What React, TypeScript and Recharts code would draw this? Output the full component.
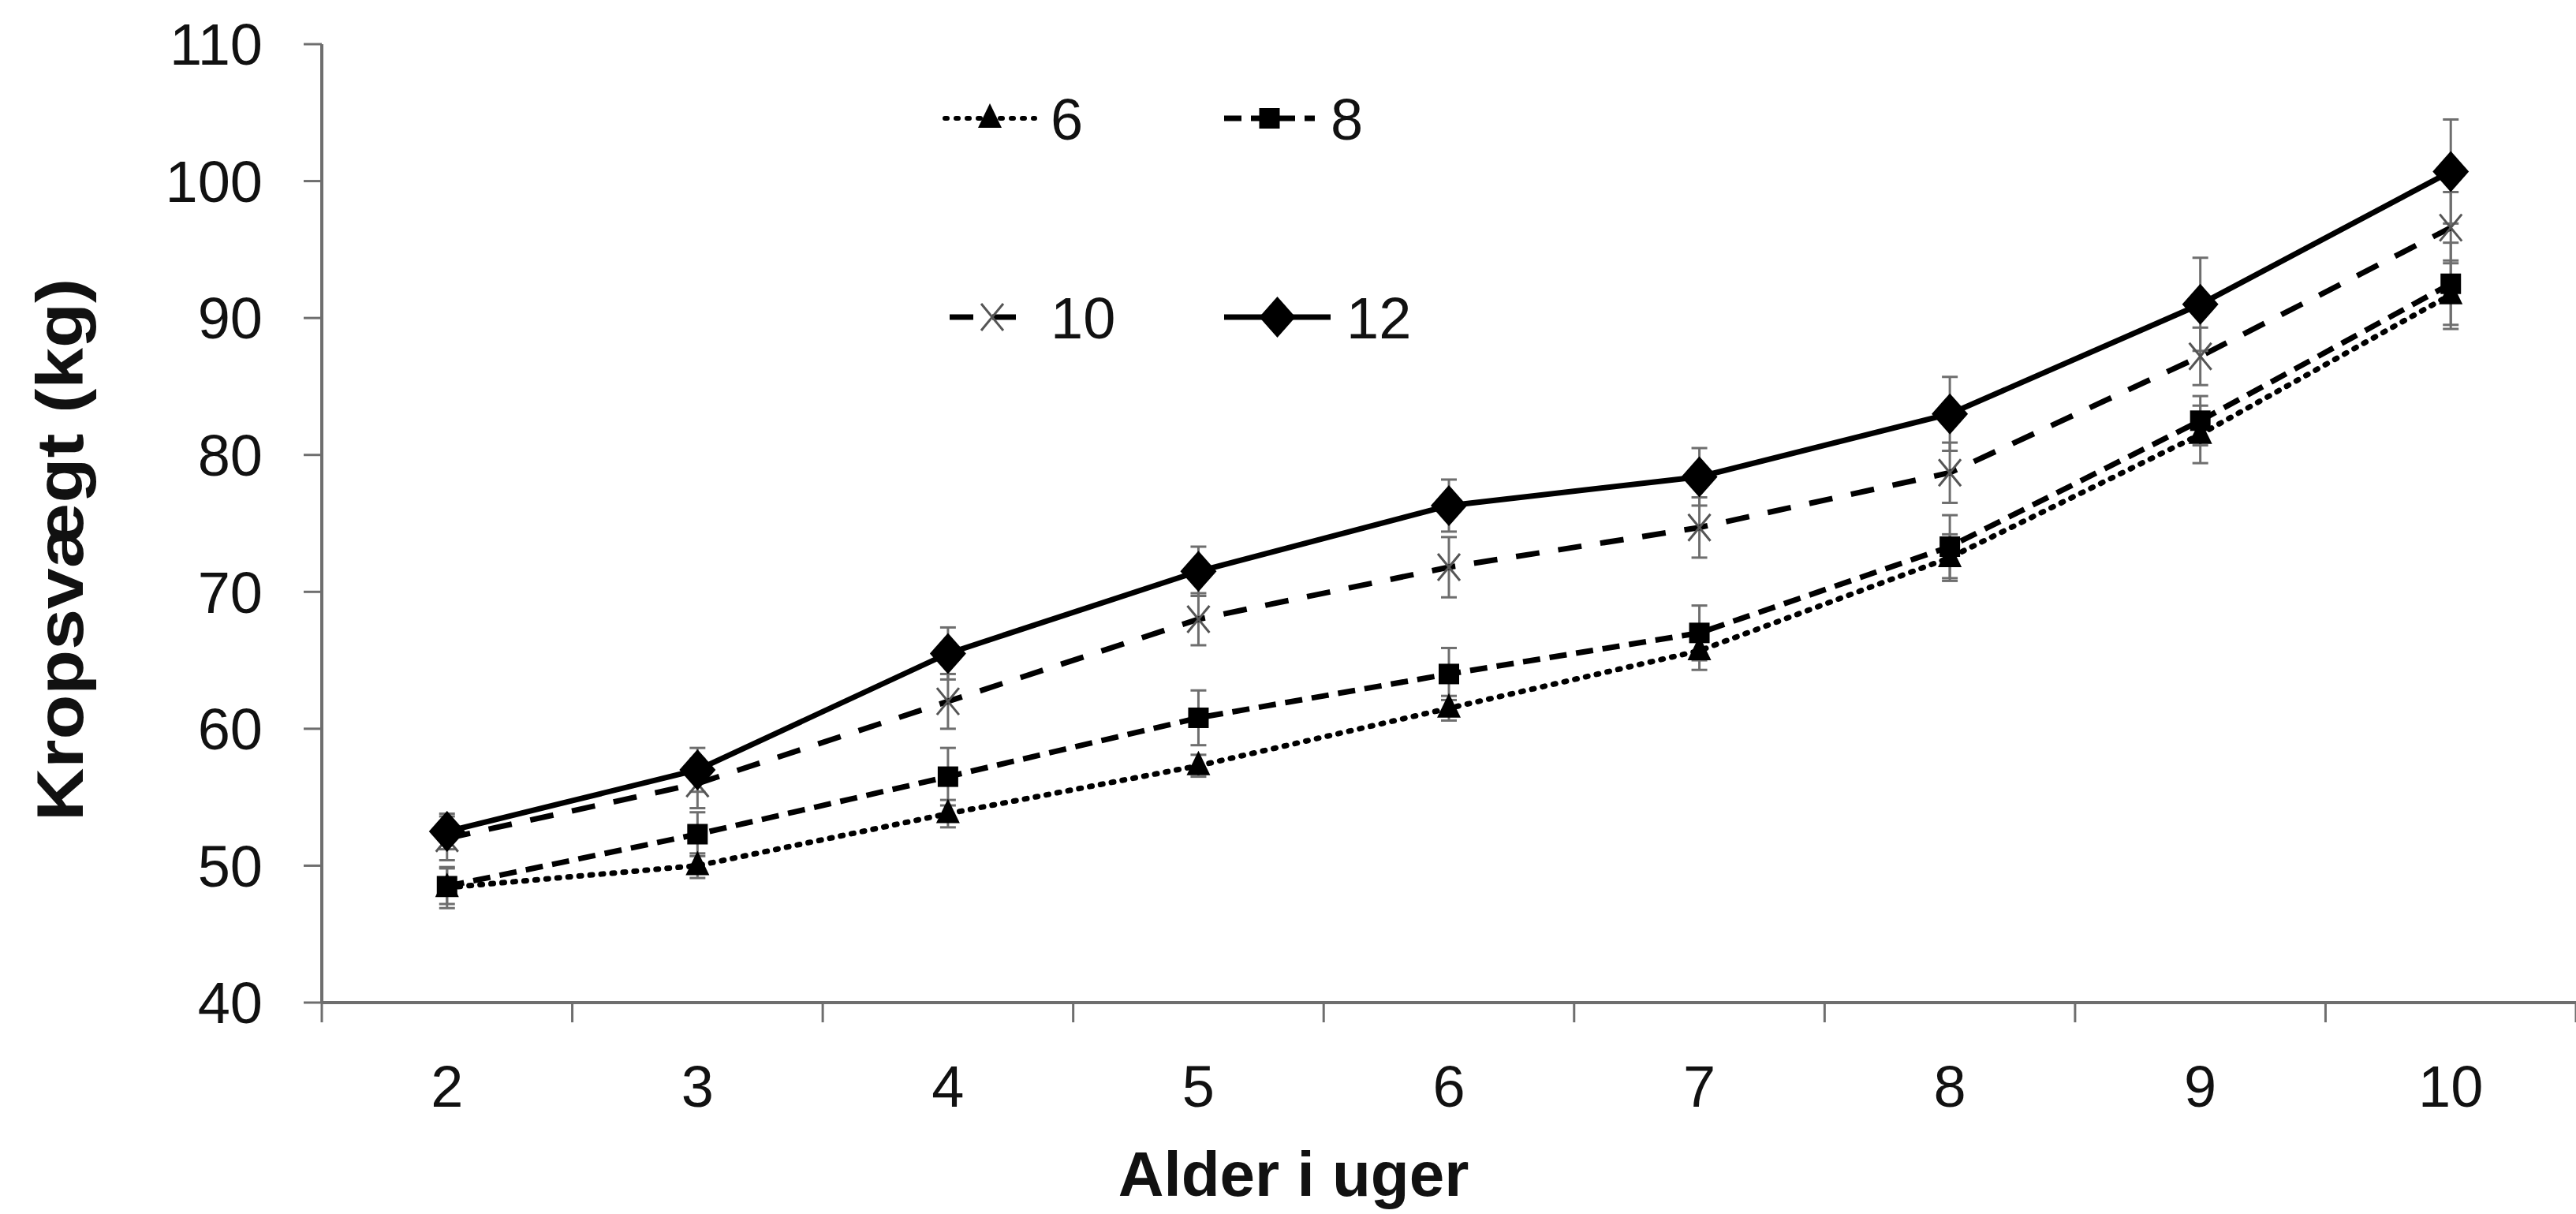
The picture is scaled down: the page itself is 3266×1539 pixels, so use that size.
import { LineChart, Line, XAxis, YAxis, ErrorBar } from 'recharts';

// alder i uger
const weeks = [2, 3, 4, 5, 6, 7, 8, 9, 10];
// tick-streger ligger mellem kategorierne
const xTicks = [1.5, 2, 2.5, 3, 3.5, 4, 4.5, 5, 5.5, 6, 6.5, 7, 7.5, 8, 8.5, 9, 9.5, 10, 10.5];
const yTicks = [40, 50, 60, 70, 80, 90, 100, 110];

// kropsvægt (kg) pr. gruppe
const vaegt6 = [48.4, 50.0, 53.8, 57.3, 61.5, 65.7, 72.5, 81.5, 91.7];
const vaegt8 = [48.5, 52.3, 56.5, 60.8, 64.0, 67.0, 73.3, 82.5, 92.5];
const vaegt10 = [52.0, 56.0, 62.0, 68.0, 71.8, 74.7, 78.7, 87.2, 96.6];
const vaegt12 = [52.5, 57.0, 65.5, 71.5, 76.3, 78.4, 83.0, 91.0, 100.7];

// spredning (fejlsøjler)
const sd6 = [1.5, 0.9, 1.0, 0.8, 0.9, 1.4, 1.7, 2.1, 2.5];
const sd8 = [1.3, 1.6, 2.1, 2.0, 1.9, 2.0, 2.3, 1.8, 3.0];
const sd10 = [1.6, 1.8, 2.0, 1.9, 2.2, 2.2, 2.2, 2.1, 2.6];
const sd12 = [1.3, 1.6, 1.9, 1.8, 1.9, 2.1, 2.7, 3.4, 3.8];

const data = weeks.map((w, i) => ({
    week: w,
    v6: vaegt6[i],
    v8: vaegt8[i],
    v10: vaegt10[i],
    v12: vaegt12[i],
    e6: sd6[i],
    e8: sd8[i],
    e10: sd10[i],
    e12: sd12[i],
}));

const FONT = '"Liberation Sans", Arial, sans-serif';
const AXIS = '#6e6e6e';

const TriangleDot = (p: any) => {
    const { cx, cy, index } = p;
    return (
        <polygon key={`t${index}`} points={`${cx},${cy - 19} ${cx - 15},${cy + 12} ${cx + 15},${cy + 12}`} fill="#000" />
    );
};

const SquareDot = (p: any) => {
    const { cx, cy, index } = p;
    return <rect key={`s${index}`} x={cx - 13} y={cy - 13} width={26} height={26} fill="#000" />;
};

const CrossDot = (p: any) => {
    const { cx, cy, index } = p;
    return (
        <g key={`x${index}`} stroke="#555" strokeWidth={3}>
            <line x1={cx - 14} y1={cy - 17} x2={cx + 14} y2={cy + 17} />
            <line x1={cx - 14} y1={cy + 17} x2={cx + 14} y2={cy - 17} />
        </g>
    );
};

const DiamondDot = (p: any) => {
    const { cx, cy, index } = p;
    return (
        <polygon key={`d${index}`} points={`${cx},${cy - 26} ${cx + 23},${cy} ${cx},${cy + 26} ${cx - 23},${cy}`} fill="#000" />
    );
};

const XTick = (p: any) => {
    const { x, y, payload } = p;
    const v = payload.value;
    if (Number.isInteger(v)) {
        return (
            <text x={x} y={y + 132} textAnchor="middle" fontSize={74} fontFamily={FONT} fill="#111">
                {v}
            </text>
        );
    }
    return <line x1={x} y1={y} x2={x} y2={y + 25} stroke={AXIS} strokeWidth={3} />;
};

const legendItems = [
    { label: '6', x: 1198, y: 150, w: 114, dash: '3 11', cap: 'round', dot: 'tri' },
    { label: '8', x: 1552, y: 150, w: 115, dash: '22 12', cap: 'butt', dot: 'sq' },
    { label: '10', x: 1204, y: 402, w: 108, dash: '30 24', cap: 'butt', dot: 'x' },
    { label: '12', x: 1552, y: 402, w: 135, dash: undefined, cap: 'butt', dot: 'dia' },
];

function LegendBox() {
    return (
        <g>
            {legendItems.map((it) => {
                const mx = it.x + it.w / 2;
                return (
                    <g key={it.label}>
                        <line
                            x1={it.x}
                            y1={it.y}
                            x2={it.x + it.w}
                            y2={it.y}
                            stroke="#000"
                            strokeWidth={it.dot === 'tri' ? 6 : 7}
                            strokeDasharray={it.dash}
                            strokeLinecap={it.cap as any}
                        />
                        {it.dot === 'tri' && <TriangleDot cx={mx} cy={it.y} index={0} />}
                        {it.dot === 'sq' && <SquareDot cx={mx} cy={it.y} index={0} />}
                        {it.dot === 'x' && <CrossDot cx={mx} cy={it.y} index={0} />}
                        {it.dot === 'dia' && <DiamondDot cx={mx} cy={it.y} index={0} />}
                        <text x={it.x + it.w + 20} y={it.y + 27} fontSize={74} fontFamily={FONT} fill="#111">
                            {it.label}
                        </text>
                    </g>
                );
            })}
        </g>
    );
}

export default function App() {
    return (
        <div style={{ position: 'absolute', left: 0, top: 0, background: '#fff' }}>
            <LineChart width={3266} height={1539} data={data} margin={{ top: 56, right: 0, left: 0, bottom: 0 }}>
                <XAxis
                    dataKey="week"
                    type="number"
                    domain={[1.5, 10.5]}
                    ticks={xTicks}
                    interval={0}
                    height={268}
                    tickLine={false}
                    tickSize={0}
                    tickMargin={0}
                    tick={<XTick />}
                    axisLine={{ stroke: AXIS, strokeWidth: 4 }}
                    allowDataOverflow
                />
                <YAxis
                    type="number"
                    domain={[40, 110]}
                    ticks={yTicks}
                    interval={0}
                    width={408}
                    tickSize={23}
                    tickMargin={52}
                    tickLine={{ stroke: AXIS, strokeWidth: 3 }}
                    axisLine={{ stroke: AXIS, strokeWidth: 4 }}
                    tick={{ fontSize: 74, fontFamily: FONT, fill: '#111' }}
                />
                <Line dataKey="v6" stroke="#000" strokeWidth={7} strokeDasharray="3 11" strokeLinecap="round" dot={TriangleDot} activeDot={false} isAnimationActive={false}>
                    <ErrorBar dataKey="e6" direction="y" width={10} stroke={AXIS} strokeWidth={3} />
                </Line>
                <Line dataKey="v8" stroke="#000" strokeWidth={7} strokeDasharray="22 12" dot={SquareDot} activeDot={false} isAnimationActive={false}>
                    <ErrorBar dataKey="e8" direction="y" width={10} stroke={AXIS} strokeWidth={3} />
                </Line>
                <Line dataKey="v10" stroke="#000" strokeWidth={7} strokeDasharray="30 24" dot={CrossDot} activeDot={false} isAnimationActive={false}>
                    <ErrorBar dataKey="e10" direction="y" width={10} stroke={AXIS} strokeWidth={3} />
                </Line>
                <Line dataKey="v12" stroke="#000" strokeWidth={7} dot={DiamondDot} activeDot={false} isAnimationActive={false}>
                    <ErrorBar dataKey="e12" direction="y" width={10} stroke={AXIS} strokeWidth={3} />
                </Line>
            </LineChart>
            <svg width={3266} height={1539} style={{ position: 'absolute', left: 0, top: 0, pointerEvents: 'none' }}>
                <LegendBox />
                <text
                    x={105}
                    y={697}
                    transform="rotate(-90 105 697)"
                    textAnchor="middle"
                    fontSize={84}
                    fontWeight="bold"
                    fontFamily={FONT}
                    fill="#111"
                    textLength={688}
                    lengthAdjust="spacingAndGlyphs"
                >
                    Kropsvægt (kg)
                </text>
                <text x={1640} y={1516} textAnchor="middle" fontSize={80} fontWeight="bold" fontFamily={FONT} fill="#111">
                    Alder i uger
                </text>
            </svg>
        </div>
    );
}
